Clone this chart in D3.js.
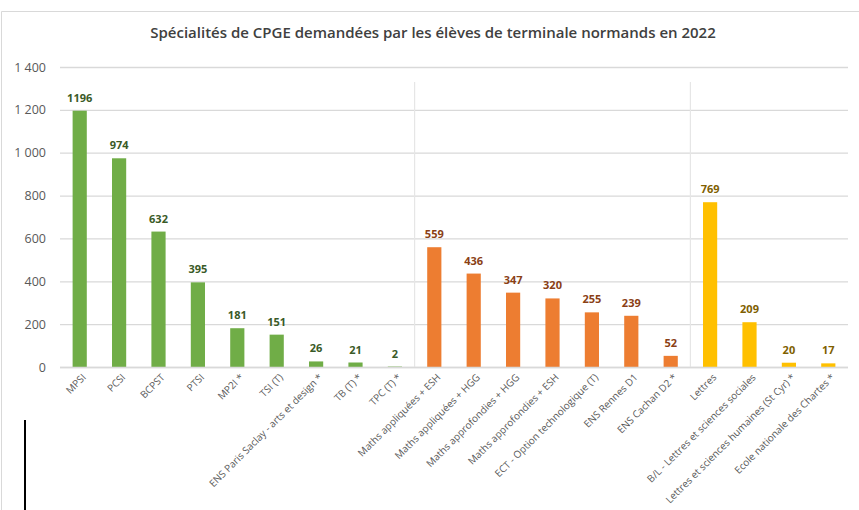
<!DOCTYPE html>
<html>
<head>
<meta charset="utf-8">
<script src="https://cdn.jsdelivr.net/npm/d3@7"></script>
<style>
  body { margin: 0; background: #fff; }
  svg { display: block; font-family: "Open Sans", "Liberation Sans", sans-serif; }
</style>
</head>
<body>
<svg id="chart" width="859" height="510"></svg>
<script>
const categories = [
  'MPSI', 'PCSI', 'BCPST', 'PTSI', 'MP2I *', 'TSI (T)',
  'ENS Paris Saclay - arts et design *', 'TB (T) *', 'TPC (T) *',
  'Maths appliquées + ESH', 'Maths appliquées + HGG', 'Maths approfondies + HGG',
  'Maths approfondies + ESH', 'ECT - Option technologique (T)', 'ENS Rennes D1',
  'ENS Cachan D2 *',
  'Lettres', 'B/L - Lettres et sciences sociales',
  'Lettres et sciences humaines (St Cyr) *', 'Ecole nationale des Chartes *'
];
const values = [1196, 974, 632, 395, 181, 151, 26, 21, 2,
  559, 436, 347, 320, 255, 239, 52,
  769, 209, 20, 17];
// group of each category: 0 = scientifiques, 1 = économiques, 2 = littéraires
const groups = [0, 0, 0, 0, 0, 0, 0, 0, 0,
  1, 1, 1, 1, 1, 1, 1,
  2, 2, 2, 2];
const groupColors = ['#70ad47', '#ed7d31', '#ffc000'];
const labelColors = ['#3a5a27', '#8a4015', '#7f6000'];
const yTicks = [0, 200, 400, 600, 800, 1000, 1200, 1400];
const title = 'Spécialités de CPGE demandées par les élèves de terminale normands en 2022';

const svg = d3.select('#chart');
const margin = {left: 60, right: 11, top: 67, bottom: 143};
const width = 859, height = 510;
const font = '"Open Sans", "Liberation Sans", sans-serif';

// frame
svg.append('path')
  .attr('d', `M1.5,${height} V11.5 H${width}`)
  .attr('fill', 'none')
  .attr('stroke', '#d9d9d9');

svg.append('text')
  .attr('x', 433)
  .attr('y', 38)
  .attr('text-anchor', 'middle')
  .attr('font-size', 15)
  .attr('font-weight', 600)
  .attr('fill', '#404040')
  .text(title);

const x = d3.scaleBand()
  .domain(categories)
  .range([margin.left, width - margin.right])
  .paddingInner(0.64)
  .paddingOuter(0.32);

const y = d3.scaleLinear()
  .domain([0, 1400])
  .range([height - margin.bottom, margin.top]);

// gridlines
const yAxis = d3.axisLeft(y)
  .tickValues(yTicks)
  .tickSize(-(width - margin.right - margin.left))
  .tickPadding(14)
  .tickFormat(d => d3.format(',')(d).replace(',', '\u00a0'));

const gy = svg.append('g')
  .attr('transform', `translate(${margin.left},0)`)
  .call(yAxis)
  .attr('font-family', font);
gy.select('.domain').remove();
gy.selectAll('line').attr('stroke', '#d9d9d9').attr('stroke-width', 1.3);
gy.selectAll('text').attr('fill', '#595959').attr('font-size', 12.5);

// group separators
const step = x.step();
const separators = [9, 16];
svg.selectAll('.sep')
  .data(separators)
  .enter()
  .append('line')
  .attr('class', 'sep')
  .attr('x1', i => margin.left + i * step)
  .attr('x2', i => margin.left + i * step)
  .attr('y1', 82)
  .attr('y2', y(0))
  .attr('stroke', '#e6e6e6')
  .attr('stroke-width', 1.2);

// bars
svg.selectAll('.bar')
  .data(categories)
  .enter()
  .append('rect')
  .attr('class', 'bar')
  .attr('x', d => x(d))
  .attr('width', x.bandwidth())
  .attr('y', (d, i) => y(values[i]))
  .attr('height', (d, i) => y(0) - y(values[i]))
  .attr('fill', (d, i) => groupColors[groups[i]]);

// value labels
svg.selectAll('.val')
  .data(categories)
  .enter()
  .append('text')
  .attr('class', 'val')
  .attr('x', d => x(d) + x.bandwidth() / 2)
  .attr('y', (d, i) => y(values[i]) - 9)
  .attr('text-anchor', 'middle')
  .attr('font-size', 11)
  .attr('font-weight', 'bold')
  .attr('fill', (d, i) => labelColors[groups[i]])
  .text((d, i) => values[i]);

// x axis
const xAxis = d3.axisBottom(x).tickSize(0).tickPadding(0);
const gx = svg.append('g')
  .attr('transform', `translate(0,${y(0)})`)
  .call(xAxis)
  .attr('font-family', font);
gx.select('.domain')
  .attr('d', `M${margin.left},0.5H${width - margin.right}`)
  .attr('stroke', '#d9d9d9')
  .attr('stroke-width', 1.3);
gx.selectAll('text')
  .attr('fill', '#595959')
  .attr('font-size', 10)
  .attr('text-anchor', 'end')
  .attr('dy', 0)
  .attr('transform', 'translate(7,11) rotate(-45)');

// stray black marker at lower left
svg.append('line')
  .attr('x1', 25).attr('x2', 25)
  .attr('y1', 420).attr('y2', height)
  .attr('stroke', '#000')
  .attr('stroke-width', 2);
</script>
</body>
</html>
